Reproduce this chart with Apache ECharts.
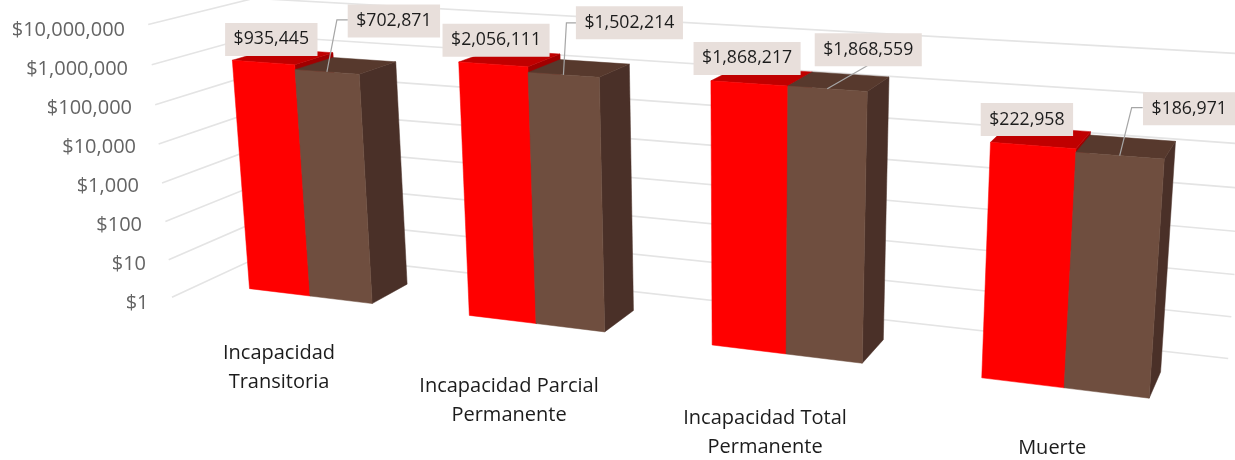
<!DOCTYPE html>
<html>
<head>
<meta charset="utf-8">
<style>html,body{margin:0;padding:0;background:#fff}#c{width:1235px;height:460px}</style>
<script src="https://cdn.jsdelivr.net/npm/echarts@6/dist/echarts.min.js"></script>
</head>
<body>
<div id="c"></div>
<script>
const categories = ['Incapacidad\nTransitoria', 'Incapacidad Parcial\nPermanente', 'Incapacidad Total\nPermanente', 'Muerte'];
const redValues = [935445, 2056111, 1868217, 222958];
const brownValues = [702871, 1502214, 1868559, 186971];
const tickValues = [1, 10, 100, 1000, 10000, 100000, 1000000, 10000000];

const GRID_TOP = 29, GRID_H = 273;
const fmt = v => '$' + Math.round(v).toLocaleString('en-US');

// Projective camera: category position u, height fraction t, depth s -> pixels
function P(u, t, s) {
  const w = 1 - 0.048 * u - 0.04 * t + 0.033 * s;
  return [(310 + 200.3 * u - 29.7 * t + 47.9 * s) / w,
          (296 + 12 * u - 273.8 * t - 9.8 * s) / w];
}
const HALF = 0.285, WALL_L = -0.51, WALL_R = 3.49, WALL_F = -0.75, WALL_B = 1.82;
const heightOf = (api, v) => (GRID_TOP + GRID_H - api.coord([0, v])[1]) / GRID_H;
const poly = (pts, fill) => ({ type: 'polygon', shape: { points: pts }, style: { fill: fill, stroke: fill, lineWidth: 0.5 } });

function barRenderer(u0, u1, front, top, side) {
  return function (params, api) {
    const i = api.value(0), t = heightOf(api, api.value(1));
    const a = i + u0, b = i + u1;
    return { type: 'group', children: [
      poly([P(b, 0, 0), P(b, 0, 1), P(b, t, 1), P(b, t, 0)], side),
      poly([P(a, t, 0), P(b, t, 0), P(b, t, 1), P(a, t, 1)], top),
      poly([P(a, 0, 0), P(b, 0, 0), P(b, t, 0), P(a, t, 0)], front)
    ] };
  };
}

function gridRenderer(params, api) {
  const t = heightOf(api, api.value(1));
  return { type: 'polyline',
    shape: { points: [P(WALL_L, t, WALL_F), P(WALL_L, t, WALL_B), P(WALL_R, t, WALL_B)] },
    style: { stroke: '#e4e4e4', lineWidth: 1.6, fill: null } };
}

const BOX = { fontFamily: '"Open Sans"', fontSize: 17.7, fill: '#1c1c1c', backgroundColor: '#e8dfdb',
  padding: [7.5, 8.5, 7.5, 8.5], align: 'center', verticalAlign: 'middle' };
const redOffset = [[8, -23], [3, -24], [-2, -25], [-6, -26]];
const brownOffset = [[67, -51], [66, -52], [41, -39], [69.5, -47]];
const brownLeader = [
  [[10, -52], [21, -52]],
  [[3, -52], [13, -52]],
  [[40, -23]],
  [[12, -48], [23, -48]]
];

function redLabel(params, api) {
  const i = api.value(0), v = api.value(1), a = P(i - HALF / 2, heightOf(api, v), 0);
  const o = redOffset[i];
  return { type: 'text', style: Object.assign({ x: a[0] + o[0], y: a[1] + o[1], text: fmt(v) }, BOX) };
}
function brownLabel(params, api) {
  const i = api.value(0), v = api.value(1), a = P(i + HALF / 2, heightOf(api, v), 0);
  const o = brownOffset[i];
  return { type: 'group', children: [
    { type: 'polyline',
      shape: { points: [a].concat(brownLeader[i].map(d => [a[0] + d[0], a[1] + d[1]])) },
      style: { stroke: '#a6a6a6', lineWidth: 1.2, fill: null } },
    { type: 'text', style: Object.assign({ x: a[0] + o[0], y: a[1] + o[1], text: fmt(v) }, BOX) }
  ] };
}
const catOffset = [[-31, 71.5], [-27, 77], [-21, 79], [-12, 60]];
function catLabel(params, api) {
  const i = api.value(0), a = P(i, 0, 0), o = catOffset[i];
  return { type: 'text', style: { x: a[0] + o[0], y: a[1] + o[1], text: categories[i],
    fontFamily: '"Open Sans"', fontSize: 20, lineHeight: 29, fill: '#1c1c1c', align: 'center', verticalAlign: 'middle' } };
}

const tickInset = [1.5, 4, 8, 11, 14, 18, 22, 25];
const rich = {};
tickValues.forEach((v, k) => {
  rich['p' + k] = { fontFamily: '"Open Sans"', fontSize: 20, color: '#646464', padding: [3, tickInset[k], 0, 0], align: 'right' };
});

const idx = a => a.map((v, i) => [i, v]);
const option = {
  animation: false,
  backgroundColor: '#fff',
  grid: { left: 150, top: GRID_TOP, width: 1000, height: GRID_H },
  xAxis: { type: 'category', data: categories, show: false },
  yAxis: {
    type: 'log', logBase: 10, min: 1, max: 10000000,
    axisLine: { show: false }, axisTick: { show: false }, splitLine: { show: false },
    axisLabel: {
      margin: 0,
      formatter: function (v) { const k = Math.round(Math.log10(v)); return '{p' + k + '|' + fmt(v) + '}'; },
      rich: rich
    }
  },
  series: [
    { type: 'custom', name: 'grid', z: 1, clip: false, silent: true, renderItem: gridRenderer, data: tickValues.map(v => [0, v]), encode: { x: 0, y: 1 } },
    { type: 'custom', name: 'Red', z: 2, clip: false, renderItem: barRenderer(-HALF, 0, '#ff0000', '#c00000', '#a00000'), data: idx(redValues), encode: { x: 0, y: 1 } },
    { type: 'custom', name: 'Brown', z: 3, clip: false, renderItem: barRenderer(0, HALF, '#6f4e3f', '#57392d', '#4a3028'), data: idx(brownValues), encode: { x: 0, y: 1 } },
    { type: 'custom', name: 'RedLabels', z: 5, clip: false, renderItem: redLabel, data: idx(redValues), encode: { x: 0, y: 1 } },
    { type: 'custom', name: 'BrownLabels', z: 6, clip: false, renderItem: brownLabel, data: idx(brownValues), encode: { x: 0, y: 1 } },
    { type: 'custom', name: 'Categories', z: 4, clip: false, renderItem: catLabel, data: idx(brownValues), encode: { x: 0, y: 1 } }
  ]
};
echarts.init(document.getElementById('c')).setOption(option);
</script>
</body>
</html>
